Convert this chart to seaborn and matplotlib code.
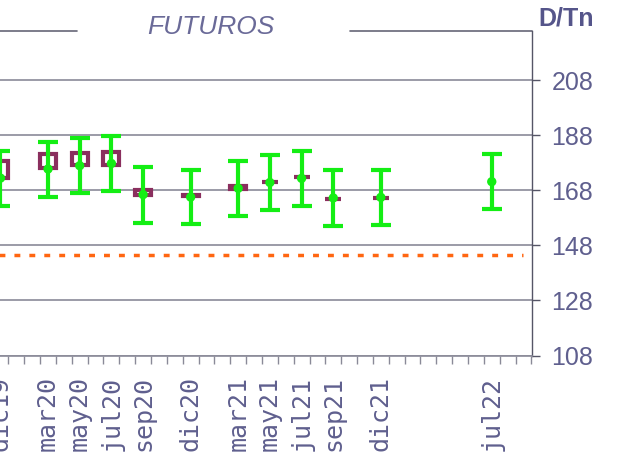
import numpy as np
import pandas as pd
import seaborn as sns
import matplotlib.pyplot as plt

# monthly categories on the x axis (dic19 .. sep22)
abrev = ['ene', 'feb', 'mar', 'abr', 'may', 'jun', 'jul', 'ago', 'sep', 'oct', 'nov', 'dic']
meses = ['dic19'] + [f'{m}{a}' for a in (20, 21) for m in abrev] + [f'{m}22' for m in abrev[:9]]
etiquetas = ['dic19', 'mar20', 'may20', 'jul20', 'sep20', 'dic20',
             'mar21', 'may21', 'jul21', 'sep21', 'dic21', 'jul22']

# futures: price and range (green)
contratos = ['dic19', 'mar20', 'may20', 'jul20', 'sep20', 'dic20',
             'mar21', 'may21', 'jul21', 'sep21', 'dic21', 'jul22']
precio = [172.4, 175.7, 176.9, 177.7, 166.4, 165.5, 168.7, 170.8, 172.3, 165.2, 165.4, 171.1]
rango_bajo = [162.4, 165.7, 166.9, 167.7, 156.2, 155.7, 158.7, 160.8, 162.4, 155.0, 155.4, 161.2]
rango_alto = [182.3, 185.6, 186.8, 187.7, 176.5, 175.3, 178.6, 180.9, 182.2, 175.3, 175.3, 181.0]

# previous session boxes (maroon)
caja_contratos = ['dic19', 'mar20', 'may20', 'jul20', 'sep20', 'dic20',
                  'mar21', 'may21', 'jul21', 'sep21', 'dic21']
caja_bajo = [172.4, 176.1, 177.0, 177.3, 166.4, 166.0, 168.5, 170.9, 172.7, 164.8, 165.1]
caja_alto = [178.6, 181.2, 181.5, 181.9, 168.1, 166.3, 169.4, 171.0, 172.8, 164.9, 165.2]

nivel_ref = 144.5

verde = '#14ee14'
granate = '#8a2f5e'
texto = '#5f5f8e'
gris = '#8a8a98'

df = pd.DataFrame({'contrato': contratos, 'precio': precio,
                   'bajo': rango_bajo, 'alto': rango_alto})
df['x'] = [meses.index(c) for c in df['contrato']]
cajas = pd.DataFrame({'contrato': caja_contratos, 'bajo': caja_bajo, 'alto': caja_alto})
cajas['x'] = [meses.index(c) for c in cajas['contrato']]

sns.set_style('white')
fig = plt.figure(figsize=(6.35, 4.57), dpi=100)
ax = fig.add_axes([0.0, 0.2221, 0.8378, 0.7101])

# reference level
ax.hlines(nivel_ref, -1, 33, color='#ff6611', lw=2.5, linestyles=(0, (1.7, 2.6)), zorder=2)

# maroon boxes
ax.bar(cajas['x'], cajas['alto'] - cajas['bajo'], bottom=cajas['bajo'], width=1.0,
       fill=False, edgecolor=granate, linewidth=3, zorder=3)

# green ranges
ax.errorbar(df['x'], df['precio'],
            yerr=[df['precio'] - df['bajo'], df['alto'] - df['precio']],
            fmt='none', ecolor=verde, elinewidth=3, capsize=7.5, capthick=3, zorder=4)
sns.scatterplot(data=df, x='x', y='precio', color=verde, s=45, edgecolor='none',
                ax=ax, zorder=5, legend=False)

# y axis on the right
ax.yaxis.tick_right()
ax.set_yticks(range(108, 209, 20))
ax.tick_params(axis='y', right=True, length=6, width=1, color='#555566', pad=8,
               labelsize=18, labelcolor=texto)
for t in ax.get_yticklabels():
    t.set_fontfamily('Liberation Sans')
ax.grid(axis='y', color=gris, lw=1.2)
ax.grid(axis='x', visible=False)

# x axis: labels at month centres, ticks between months
ax.set_xticks([meses.index(e) for e in etiquetas])
ax.set_xticklabels(etiquetas, rotation=90, fontsize=18, family='DejaVu Sans Mono',
                   color=texto, va='top')
ax.set_xticks(np.arange(-0.5, 34, 1), minor=True)
ax.tick_params(axis='x', which='major', bottom=True, length=0, pad=15)
ax.tick_params(axis='x', which='minor', bottom=True, length=6, width=1, color=gris,
               direction='out')
ax.set_xlabel('')
ax.set_ylabel('')

ax.set_xlim(-0.03, 33.54)
ax.set_ylim(108, 225.8)

for s in ['left', 'top']:
    ax.spines[s].set_visible(False)
ax.spines['right'].set_color('#555566')
ax.spines['right'].set_linewidth(1)
ax.spines['bottom'].set_color(gris)
ax.spines['bottom'].set_linewidth(1.2)

# top frame line broken by the title
ax.axhline(225.8, xmin=0, xmax=0.1447, color='#666677', lw=1.2, clip_on=False)
ax.axhline(225.8, xmin=0.658, xmax=1, color='#666677', lw=1.2, clip_on=False)

fig.text(211 / 635, (457 - 34) / 457, 'FUTUROS', ha='center', va='baseline',
         fontsize=19, style='italic', family='Liberation Sans', color='#6a6a98')
fig.text(538 / 635, (457 - 19) / 457, 'D/Tn', ha='left', va='center',
         fontsize=18, fontweight='bold', family='Liberation Sans', color='#55558a')

fig.savefig('out.png', dpi=100)
